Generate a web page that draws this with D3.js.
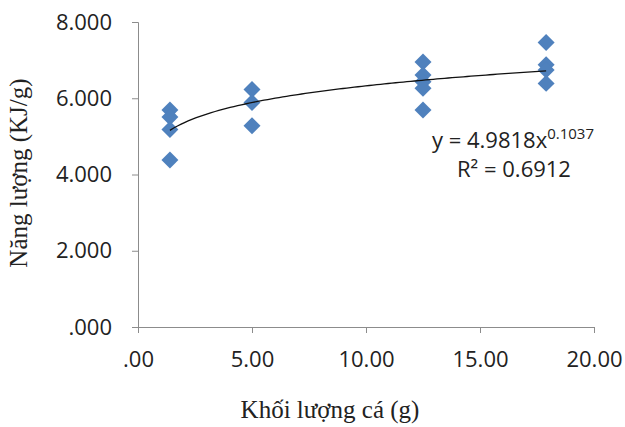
<!DOCTYPE html>
<meta charset="utf-8">
<style>
  body { margin: 0; background: #fff; }
  .axis path, .axis line { stroke: #8c8c8c; stroke-width: 1px; }
  .axis text { font-family: "Open Sans", sans-serif; font-size: 22px; fill: #222; }
  .title { font-family: "Liberation Serif", "Times New Roman", serif; font-size: 25px; fill: #222; }
  .eq { font-family: "Open Sans", sans-serif; font-size: 22px; fill: #222; }
</style>
<body>
<div id="chart"></div>
<script src="https://d3js.org/d3.v7.min.js"></script>
<script>
  // fish weight (g) and energy (KJ/g) per sample
  const fishWeight = [1.4, 1.4, 1.4, 1.4, 5.0, 5.0, 5.0, 12.5, 12.5, 12.5, 12.5, 12.5, 17.9, 17.9, 17.9, 17.9];
  const energy = [5.69, 5.51, 5.18, 4.38, 6.23, 5.89, 5.28, 6.95, 6.61, 6.43, 6.26, 5.69, 7.46, 6.88, 6.74, 6.39];
  const xTicks = [0, 5, 10, 15, 20];
  const yTicks = [0, 2, 4, 6, 8];
  // power trendline y = a * x^b
  const trendA = 4.9818;
  const trendB = 0.1037;
  const rSquared = 0.6912;

  const width = 625, height = 427;
  const svg = d3.select("#chart").append("svg")
    .attr("width", width)
    .attr("height", height);

  const x = d3.scaleLinear().domain([0, 20]).range([138, 594]);
  const y = d3.scaleLinear().domain([0, 8]).range([327, 22]);

  const fmt = (v, p) => {
    const s = d3.format("." + p + "f")(v);
    return v === 0 ? s.replace(/^0/, "") : s;
  };

  svg.append("g")
    .attr("class", "axis")
    .attr("transform", `translate(0,${y(0)})`)
    .call(d3.axisBottom(x).tickValues(xTicks).tickSize(6).tickPadding(18).tickFormat(d => fmt(d, 2)));

  svg.append("g")
    .attr("class", "axis")
    .attr("transform", `translate(${x(0)},0)`)
    .call(d3.axisLeft(y).tickValues(yTicks).tickSize(6).tickPadding(20).tickFormat(d => fmt(d, 3)));

  // trendline
  const lo = d3.min(fishWeight), hi = d3.max(fishWeight);
  const curve = d3.range(0, 101).map(i => {
    const xv = lo + (hi - lo) * i / 100;
    return [xv, trendA * Math.pow(xv, trendB)];
  });

  // points
  const pts = fishWeight.map((w, i) => ({ w: w, e: energy[i] }));
  svg.selectAll("path.pt")
    .data(pts)
    .join("path")
    .attr("class", "pt")
    .attr("d", d3.symbol(d3.symbolSquare, 144))
    .attr("transform", d => `translate(${x(d.w)},${y(d.e)}) rotate(45)`)
    .attr("fill", "#4F81BD");

  svg.append("path")
    .datum(curve)
    .attr("fill", "none")
    .attr("stroke", "#111")
    .attr("stroke-width", 1.3)
    .attr("d", d3.line().x(d => x(d[0])).y(d => y(d[1])));

  // equation labels
  const eq = svg.append("text").attr("class", "eq")
    .attr("x", 513).attr("y", 148).attr("text-anchor", "middle");
  eq.append("tspan").text("y = " + trendA + "x");
  eq.append("tspan").attr("dy", -9).attr("font-size", 15).text(trendB);

  svg.append("text").attr("class", "eq")
    .attr("x", 514).attr("y", 177).attr("text-anchor", "middle")
    .text("R² = " + rSquared);

  // axis titles
  svg.append("text").attr("class", "title")
    .attr("x", 330).attr("y", 418).attr("text-anchor", "middle")
    .text("Khối lượng cá (g)");

  svg.append("text").attr("class", "title")
    .attr("transform", "translate(27,173) rotate(-90)")
    .attr("text-anchor", "middle")
    .text("Năng lượng (KJ/g)");
</script>
</body>
